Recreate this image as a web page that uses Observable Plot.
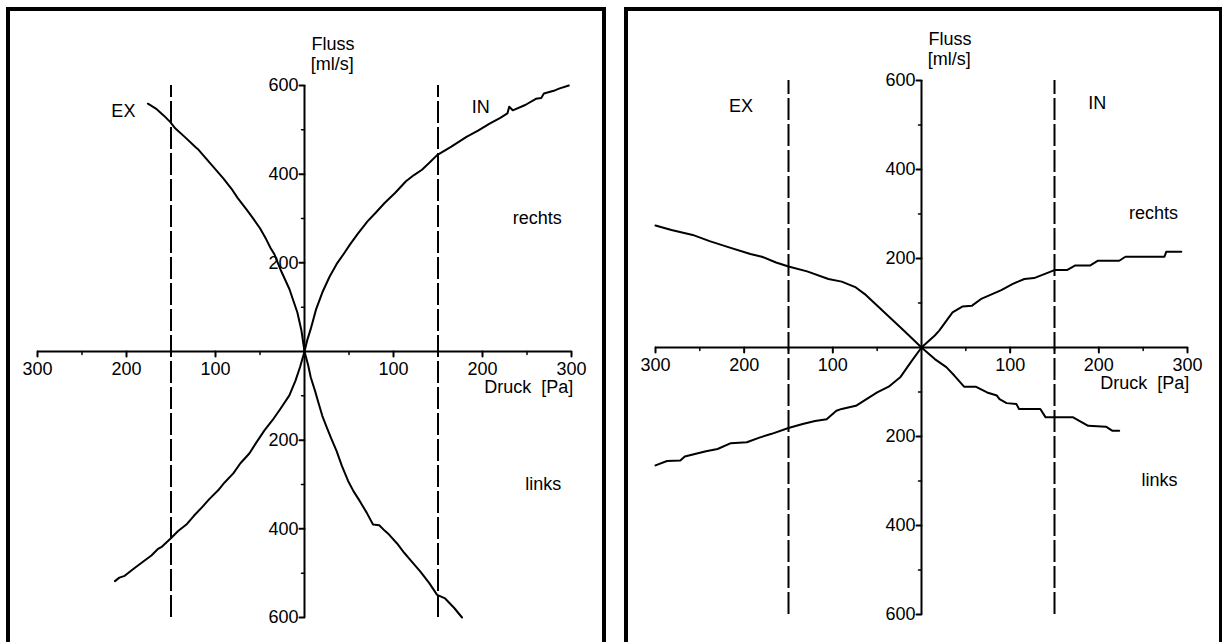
<!DOCTYPE html>
<html><head><meta charset="utf-8">
<script src="https://cdn.jsdelivr.net/npm/d3@7"></script>
<script src="https://cdn.jsdelivr.net/npm/@observablehq/plot@0.6"></script>
<style>
html,body{margin:0;padding:0;width:1222px;height:642px;overflow:hidden;background:#fff;}
.p{position:absolute;top:0;height:642px;}
.b{position:absolute;top:7px;height:700px;border:4px solid #000;box-sizing:border-box;z-index:2;pointer-events:none;}
</style></head><body>
<div class="b" style="left:6px;width:600px"></div>
<div class="b" style="left:624px;width:599px"></div>
<div id="L" class="p" style="left:0;width:612px"></div>
<div id="R" class="p" style="left:612px;width:610px"></div>
<script>
// ---- data: [Druck (Pa), Fluss (ml/s)]; negative Druck = EX side, negative Fluss = links ----
const xTicks = [-300, -200, -100, 100, 200, 300];
const xMinor = [-250, -150, -50, 50, 150, 250];
const yTicks = [-600, -400, -200, 200, 400, 600];
const yMinor = [-500, -300, -100, 100, 300, 500];
const limitLines = [-150, 150];

// left panel
const rechtsEX_L = [[-176,559],[-171,553],[-167,548],[-158,532],[-151,518],[-145,503],[-134,483],[-122,460],[-119,455],[-110,434],[-100,411],[-91,390],[-82,367],[-75,346],[-65,320],[-58,301],[-50,278],[-43,253],[-38,233],[-34,220],[-27,185],[-17,141],[-8,88],[-3.5,48],[0,0]];
const rechtsIN_L = [[0,0],[3,25],[7,51],[13,95],[20,133],[28,168],[36,197],[44,220],[51,241],[60,266],[71,294],[80,313],[90,335],[102,358],[114,384],[123,398],[132,410],[140,425],[149,443],[165,462],[182,484],[195,498],[208,514],[220,527],[228,537],[230,552],[234,544],[248,556],[260,570],[266,572],[269,582],[280,588],[286,593],[297,600]];
const linksEX_L = [[0,0],[-5,-35],[-10,-65],[-17,-99],[-27,-129],[-36,-155],[-45,-178],[-54,-205],[-62,-230],[-72,-252],[-80,-275],[-90,-296],[-97,-313],[-107,-333],[-115,-351],[-124,-370],[-132,-389],[-142,-405],[-151,-423],[-160,-440],[-165,-446],[-172,-460],[-180,-472],[-192,-490],[-202,-506],[-208,-510],[-213,-518]];
const linksIN_L = [[0,0],[4,-30],[7,-58],[12,-90],[16,-118],[20,-145],[25,-171],[30,-196],[36,-224],[42,-258],[49,-292],[55,-315],[62,-337],[70,-364],[77,-390],[84,-392],[90,-404],[95,-413],[104,-433],[112,-454],[121,-475],[130,-496],[140,-522],[149,-549],[158,-557],[168,-578],[177,-600]];

// right panel
const rechtsEX_R = [[-300,274],[-282,264],[-258,253],[-239,239],[-217,225],[-193,210],[-180,204],[-164,191],[-150,182],[-129,171],[-105,154],[-90,148],[-74,135],[-64,120],[-42,79],[-20,38],[0,0]];
const rechtsIN_R = [[0,0],[15,27],[20,38],[28,60],[35,79],[46,92],[57,94],[68,110],[90,129],[103,143],[116,154],[127,156],[150,174],[164,174],[173,184],[190,184],[199,195],[223,195],[230,204],[274,204],[276,215],[293,215]];
const linksEX_R = [[0,0],[-12,-33],[-24,-67],[-37,-88],[-50,-101],[-74,-131],[-90,-138],[-96,-142],[-107,-161],[-120,-165],[-134,-172],[-150,-181],[-169,-194],[-182,-202],[-197,-213],[-215,-215],[-230,-228],[-243,-233],[-267,-245],[-272,-254],[-287,-255],[-300,-265]];
const linksIN_R = [[0,0],[15,-26],[28,-44],[37,-63],[48,-88],[61,-88],[74,-101],[85,-108],[88,-116],[96,-125],[107,-127],[110,-138],[134,-138],[140,-157],[171,-157],[188,-176],[208,-178],[215,-187],[223,-187]];

const tickShape = {draw(c, l) { c.moveTo(0, 0); c.lineTo(0, -l); }};
const font = "Liberation Sans, Arial, Helvetica, sans-serif";

function panel(curves, width, xr, yr) {
  const lbl = (t, x, y, anchor = "start") =>
    Plot.text([t], {x, y, text: d => d, textAnchor: anchor, lineAnchor: "bottom", fontSize: 18});
  return Plot.plot({
    width, height: 642,
    x: {domain: [-300, 300], range: xr, axis: null},
    y: {domain: [-600, 600], range: yr, axis: null},
    style: {background: "transparent", fontFamily: font, color: "black", overflow: "visible"},
    marks: [
      Plot.ruleX(limitLines, {y1: -600, y2: 600, stroke: "black", strokeWidth: 2, strokeDasharray: "22,4"}),
      Plot.ruleY([0], {x1: -300, x2: 300, stroke: "black", strokeWidth: 2}),
      Plot.ruleX([0], {y1: -600, y2: 600, stroke: "black", strokeWidth: 2}),
      Plot.vector(xTicks, {x: d => d, y: 0, length: 5, rotate: 180, anchor: "start", shape: tickShape, stroke: "black", strokeWidth: 2}),
      Plot.vector(xMinor, {x: d => d, y: 0, length: 3, rotate: 180, anchor: "start", shape: tickShape, stroke: "black", strokeWidth: 1.5}),
      Plot.vector(yTicks, {x: 0, y: d => d, length: 5, rotate: -90, anchor: "start", shape: tickShape, stroke: "black", strokeWidth: 2}),
      Plot.vector(yMinor, {x: 0, y: d => d, length: 3, rotate: -90, anchor: "start", shape: tickShape, stroke: "black", strokeWidth: 1.5}),
      Plot.text(xTicks, {x: d => d, y: 0, text: d => String(Math.abs(d)), dy: 18, fontSize: 18}),
      Plot.text(yTicks, {x: 0, y: d => d, text: d => String(Math.abs(d)), textAnchor: "end", dx: -6, fontSize: 18}),
      ...curves.map(c => Plot.line(c, {x: d => d[0], y: d => d[1], stroke: "black", strokeWidth: 2, strokeLinejoin: "round"})),
      lbl("Fluss", 8, 679),
      lbl("[ml/s]", 7, 634),
      lbl("EX", -217, 530),
      lbl("IN", 188, 537),
      lbl("rechts", 234, 288),
      lbl("links", 248, -312),
      lbl("Druck\u00a0\u00a0[Pa]", 302, -93, "end")
    ]
  });
}

document.getElementById("L").append(panel([rechtsEX_L, rechtsIN_L, linksEX_L, linksIN_L], 612, [37, 571], [617, 85]));
document.getElementById("R").append(panel([rechtsEX_R, rechtsIN_R, linksEX_R, linksIN_R], 610, [43, 575], [614, 80]));
</script></body></html>
